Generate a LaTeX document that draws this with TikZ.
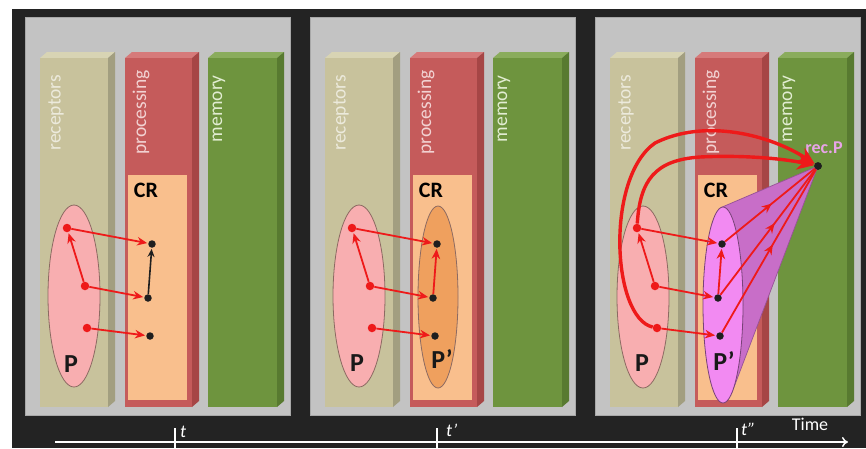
\documentclass[tikz,border=0pt]{standalone}
\usepackage{fontspec}
\setmainfont{Carlito}
\usetikzlibrary{arrows.meta,shapes.geometric,decorations.markings,calc}
\definecolor{bgdark}{HTML}{232323}
\definecolor{panelgray}{HTML}{C3C3C3}
\definecolor{panelline}{HTML}{A8A8A8}
\definecolor{recf}{HTML}{C8C29C}
\definecolor{recs}{HTML}{A29E80}
\definecolor{rect}{HTML}{D8D4B4}
\definecolor{procf}{HTML}{C55B5B}
\definecolor{procs}{HTML}{A64646}
\definecolor{proct}{HTML}{D67A7A}
\definecolor{memf}{HTML}{6E943E}
\definecolor{mems}{HTML}{587A30}
\definecolor{memt}{HTML}{8AAC5C}
\definecolor{crfill}{HTML}{F9BF8D}
\definecolor{pfill}{HTML}{F8AEB0}
\definecolor{pline}{HTML}{8C6A62}
\definecolor{orangeP}{HTML}{EFA05E}
\definecolor{magP}{HTML}{F28AF2}
\definecolor{conefill}{HTML}{C86EC8}
\definecolor{recpcol}{HTML}{E8A4E8}
\definecolor{arrred}{HTML}{EE1A1A}
\definecolor{rectxt}{HTML}{ECEADC}
\definecolor{proctxt}{HTML}{F2D2D2}
\definecolor{memtxt}{HTML}{E2EDD2}
\newcommand\colbox[5]{%
  \fill[#5] (#1,58) -- (#1+7,52) -- (#2+7,52) -- (#2,58) -- cycle;
  \fill[#4] (#2,58) -- (#2+7,52) -- (#2+7,401) -- (#2,407) -- cycle;
  \fill[#3] (#1,58) rectangle (#2,407);
}
\tikzset{
  rdot/.style={circle, fill=arrred, inner sep=0pt, minimum size=8.5pt},
  bdot/.style={circle, fill=black!88, inner sep=0pt, minimum size=7.5pt},
  rarr/.style={draw=arrred, line width=1.8pt, -{Stealth[length=10pt,width=8.5pt]}, shorten >=1pt},
  barr/.style={draw=black!88, line width=1.6pt, -{Stealth[length=8pt,width=7pt]}, shorten >=1pt},
  bigarr/.style={draw=arrred, line width=3.4pt, -{Stealth[length=17pt,width=16pt]}},
  conearr/.style={draw=arrred, line width=1.8pt, postaction={decorate},
     decoration={markings, mark=at position #1 with {\arrow{Stealth[length=10pt,width=8.5pt]}}}},
  collabel/.style={rotate=90, anchor=east, inner sep=0pt, font=\fontsize{19.5}{19.5}\selectfont},
  crlabel/.style={font=\fontsize{22}{22}\selectfont\bfseries, inner sep=0pt},
  plabel/.style={font=\fontsize{26}{26}\selectfont\bfseries, text=black!90, inner sep=0pt},
  ellP/.style={ellipse, draw=pline, line width=0.8pt, inner sep=0pt, minimum width=52pt, minimum height=182pt},
  tlabel/.style={font=\fontsize{18}{18}\selectfont\itshape, text=white, inner sep=0pt},
}
\begin{document}
\begin{tikzpicture}[x=1pt,y=-1pt]
\useasboundingbox (0,0) rectangle (866,448);
\fill[white] (0,0) rectangle (866,448);
\fill[bgdark] (12,9) rectangle (866,448);
% panels
\foreach \a/\b in {25/290,310/575,595/860}{
  \fill[panelgray, draw=panelline, line width=0.8pt] (\a,17) rectangle (\b,415);
}
% columns
\foreach \o in {0,285,570}{
  \begin{scope}[xshift=\o pt]
    \colbox{40}{108}{recf}{recs}{rect}
    \colbox{125}{192}{procf}{procs}{proct}
    \colbox{208}{277}{memf}{mems}{memt}
    \fill[crfill] (128,175) rectangle (187,400);
    \node[collabel, text=rectxt] at (56,75) {receptors};
    \node[collabel, text=proctxt] at (141,70) {processing};
    \node[collabel, text=memtxt] at (219,75) {memory};
    \node[crlabel] at (146,190) {CR};
  \end{scope}
}
% ---------------- panel 1
\node[ellP, fill=pfill] (Pa) at (74,296) {};
\node[plabel] (PaL) at (71,364) {P};
\node[rdot] (r1a) at (67,228) {};
\node[rdot] (r2a) at (85,286) {};
\node[rdot] (r3a) at (87,328) {};
\node[bdot] (b1a) at (152,244) {};
\node[bdot] (b2a) at (148,298) {};
\node[bdot] (b3a) at (150,336) {};
\draw[rarr] (r1a) -- (b1a);
\draw[rarr] (r2a) -- (b2a);
\draw[rarr] (r3a) -- (b3a);
\draw[rarr] (r2a) -- (r1a);
\draw[barr] (b2a) -- (b1a);
% ---------------- panel 2
\node[ellP, fill=pfill] (Pb) at (359,296) {};
\node[ellP, fill=orangeP, minimum width=40pt] (Qb) at (438,297) {};
\node[plabel] (PbL) at (357,363) {P};
\node[plabel] (QbL) at (442,359) {P'};
\node[rdot] (r1b) at (352,228) {};
\node[rdot] (r2b) at (370,286) {};
\node[rdot] (r3b) at (372,328) {};
\node[bdot] (b1b) at (437,244) {};
\node[bdot] (b2b) at (433,298) {};
\node[bdot] (b3b) at (435,336) {};
\draw[rarr] (r1b) -- (b1b);
\draw[rarr] (r2b) -- (b2b);
\draw[rarr] (r3b) -- (b3b);
\draw[rarr] (r2b) -- (r1b);
\draw[rarr] (b2b) -- (b1b);
% ---------------- panel 3
\node[bdot] (recP) at (818,166) {};
\node[font=\fontsize{18}{18}\selectfont\bfseries, text=recpcol, inner sep=0pt] (recPL) at (824,148) {rec.P};
\fill[conefill, draw=conefill!75!black, line width=0.7pt]
  (recP.center) -- (721.3,207.4) -- (740,260) -- (743,305) -- (732.5,391) -- cycle;
\node[ellP, fill=pfill] (Pc) at (643,297) {};
\node[ellP, fill=magP, draw=conefill!60!black, minimum width=40pt, minimum height=196pt] (Qc) at (723,305) {};
\node[plabel] (PcL) at (642,363) {P};
\node[plabel] (QcL) at (724,361) {P'};
\node[rdot] (r1c) at (637,228) {};
\node[rdot] (r2c) at (655,286) {};
\node[rdot] (r3c) at (657,328) {};
\node[bdot] (b1c) at (722,244) {};
\node[bdot] (b2c) at (718,298) {};
\node[bdot] (b3c) at (720,336) {};
\draw[rarr] (r1c) -- (b1c);
\draw[rarr] (r2c) -- (b2c);
\draw[rarr] (r3c) -- (b3c);
\draw[rarr] (r2c) -- (r1c);
\draw[rarr] (b2c) -- (b1c);
\draw[conearr=0.52] (b1c) -- (recP);
\draw[conearr=0.57] (b2c) -- (recP);
\draw[conearr=0.54] (b3c) -- (recP);
\node[bdot] at (recP) {};
\draw[bigarr] (r3c) .. controls (612,318) and (605,178) .. (655,143)
   .. controls (705,118) and (770,135) .. (recP);
\draw[bigarr] (r1c) .. controls (640,180) and (655,160) .. (700,157)
   .. controls (740,155) and (780,158) .. (recP);
% ---------------- time axis
\coordinate (tS) at (55,442);
\coordinate (tE) at (848,442);
\draw[white, line width=1.5pt, -{To[length=6pt,width=10pt]}] (tS) -- (tE);
\foreach \x/\n in {175/t1,437/t2,737/t3}{
  \coordinate (\n top) at (\x,428);
  \coordinate (\n bot) at (\x,448);
  \draw[white, line width=1.5pt] (\n top) -- (\n bot);
}
\node[tlabel, anchor=west] (tl1) at (180,432) {t};
\node[tlabel, anchor=west] (tl2) at (446,430) {t'};
\node[tlabel, anchor=west] (tl3) at (741,429) {t''};
\node[font=\fontsize{18}{18}\selectfont, text=white, inner sep=0pt] (timeL) at (810,424) {Time};
\end{tikzpicture}
\end{document}
